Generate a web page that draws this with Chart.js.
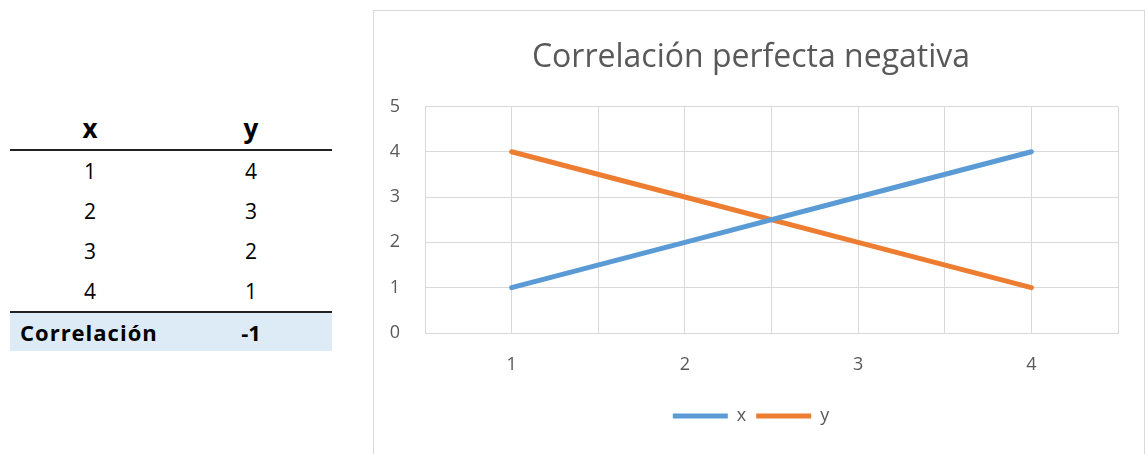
<!DOCTYPE html>
<html>
<head>
<meta charset="utf-8">
<script src="https://cdn.jsdelivr.net/npm/chart.js@4.4.0/dist/chart.umd.min.js"></script>
<style>
  body { margin: 0; background: #fff; width: 1148px; height: 454px; overflow: hidden; position: relative; font-family: 'Open Sans', sans-serif; }
  #tbl { position: absolute; left: 10px; top: 107px; border-collapse: collapse; width: 322px; font-size: 21px; color: #000; }
  #tbl th { font-size: 26px; font-weight: bold; height: 42px; padding: 0; border-bottom: 2px solid #222; }
  #tbl td { height: 40px; padding: 0; text-align: center; }
  #tbl tr.last td { border-top: 2px solid #222; background: #ddebf7; font-weight: bold; height: 38px; font-size: 22px; }
  #tbl tr.last td:first-child { text-align: left; padding-left: 10px; letter-spacing: 1px; }
  #box { position: absolute; left: 373px; top: 10px; width: 770px; height: 470px; border: 1px solid #d9d9d9; }
  #wrap { position: absolute; left: 0; top: 0; width: 770px; height: 443px; }
</style>
</head>
<body>
<table id="tbl">
  <thead><tr><th style="width:160px">x</th><th>y</th></tr></thead>
  <tbody id="rows"></tbody>
</table>
<div id="box"><div id="wrap"><canvas id="chart"></canvas></div></div>
<script>
// Data
const categories = [1, 2, 3, 4];
const xValues = [1, 2, 3, 4];
const yValues = [4, 3, 2, 1];
const correlation = -1;
const yTicks = [0, 1, 2, 3, 4, 5];

// Table
const rowsEl = document.getElementById('rows');
categories.forEach((c, i) => {
  rowsEl.innerHTML += `<tr><td>${xValues[i]}</td><td>${yValues[i]}</td></tr>`;
});
rowsEl.innerHTML += `<tr class="last"><td>Correlación</td><td>${correlation}</td></tr>`;

const BLUE = '#5b9bd5';
const ORANGE = '#ed7d31';
const TEXT = '#595959';
const GRID = '#d9d9d9';

const ctx = document.getElementById('chart').getContext('2d');
new Chart(ctx, {
  type: 'line',
  data: {
    datasets: [
      {
        label: 'x',
        data: categories.map((c, i) => ({ x: c, y: xValues[i] })),
        borderColor: BLUE,
        backgroundColor: BLUE,
        borderWidth: 5,
        borderCapStyle: 'round',
        pointRadius: 0
      },
      {
        label: 'y',
        data: categories.map((c, i) => ({ x: c, y: yValues[i] })),
        borderColor: ORANGE,
        backgroundColor: ORANGE,
        borderWidth: 5,
        borderCapStyle: 'round',
        pointRadius: 0
      }
    ]
  },
  options: {
    responsive: true,
    maintainAspectRatio: false,
    animation: false,
    layout: { padding: { left: 10, right: 26, top: 0, bottom: 19 } },
    plugins: {
      title: {
        display: true,
        text: 'Correlación perfecta negativa',
        color: TEXT,
        font: { family: 'Open Sans', size: 32, weight: 'normal' },
        padding: { top: 28, bottom: 29 }
      },
      legend: {
        position: 'bottom',
        labels: {
          usePointStyle: true,
          pointStyle: 'line',
          pointStyleWidth: 55,
          color: TEXT,
          font: { family: 'Open Sans', size: 18 },
          padding: 10
        }
      },
      tooltip: { enabled: false }
    },
    scales: {
      x: {
        type: 'linear',
        min: 0.5,
        max: 4.5,
        afterFit: scale => { scale.height = 64; },
        ticks: {
          stepSize: 0.5,
          color: TEXT,
          font: { family: 'Open Sans', size: 18 },
          padding: 21,
          callback: v => (Number.isInteger(v) && categories.includes(v)) ? String(v) : ''
        },
        grid: { color: GRID, drawTicks: false },
        border: { color: GRID }
      },
      y: {
        min: yTicks[0],
        max: yTicks[yTicks.length - 1],
        afterFit: scale => { scale.width = 41; },
        ticks: {
          stepSize: 1,
          color: TEXT,
          font: { family: 'Open Sans', size: 18 },
          padding: 25
        },
        grid: { color: GRID, drawTicks: false },
        border: { display: false }
      }
    }
  }
});
</script>
</body>
</html>
